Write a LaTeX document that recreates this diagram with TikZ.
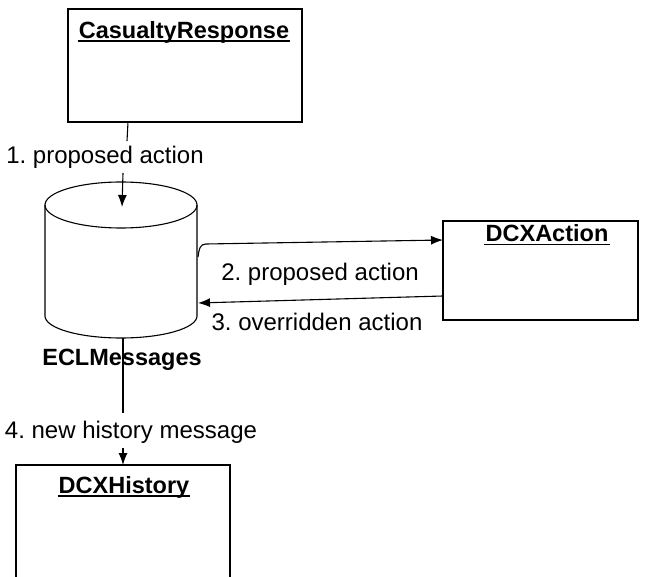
\documentclass[tikz,border=0pt]{standalone}
\usepackage{fontspec}
\setmainfont{Liberation Sans}
\usetikzlibrary{arrows.meta}
\tikzset{
  objbox/.style={draw, line width=1.2pt, inner sep=0pt},
  objtitle/.style={font=\fontsize{23.5}{28}\selectfont\bfseries, inner sep=1pt},
  msglabel/.style={font=\fontsize{24}{28}\selectfont, inner sep=2pt},
  conn/.style={line width=1.1pt},
  msgarrow/.style={conn, -{Latex[length=12pt,width=9pt]}},
  uline/.style={line width=1.6pt},
}
\begin{document}
\frenchspacing
\begin{tikzpicture}[x=1pt, y=-1pt]
  \useasboundingbox (0,0) rectangle (648,577);
  \clip (0,0) rectangle (648,577);

  % objects
  \node[objbox, minimum width=234pt, minimum height=113pt] (cr) at (185,65.5) {};
  \node[objtitle] (crt) at (184,32) {CasualtyResponse};
  \draw[uline] ([yshift=-3pt]crt.base west) -- ([yshift=-3pt]crt.base east);

  \node[objbox, minimum width=195pt, minimum height=99pt] (act) at (540.5,270.5) {};
  \node[objtitle] (actt) at (547,233) {DCXAction};
  \draw[uline] ([yshift=-3pt]actt.base west) -- ([yshift=-3pt]actt.base east);

  \node[objbox, minimum width=214pt, minimum height=150pt] (hist) at (123,540) {};
  \node[objtitle] (histt) at (124,487) {DCXHistory};
  \draw[uline] ([yshift=-3pt]histt.base west) -- ([yshift=-3pt]histt.base east);

  % ECLMessages data store
  \draw[conn] (121,205) ellipse [x radius=76pt, y radius=23pt];
  \draw[conn] (45,205) -- (45,316) arc[start angle=180, end angle=360, x radius=76pt, y radius=22pt] -- (197,205);
  \node[objtitle] (ecl) at (122,360) {ECLMessages};

  % connector end points on the store and boxes
  \coordinate (cylTop) at (122,207);
  \coordinate (cylBot) at (123,338);
  \coordinate (cylOut) at (198,257);
  \coordinate (cylIn)  at (198,303);
  \coordinate (crOut)  at (128,122);
  \coordinate (actIn)  at (443,240);
  \coordinate (actOut) at (443,296);
  \coordinate (histIn) at (123,465);

  % message labels
  \node[msglabel] (m1) at (105,157) {1. proposed action};
  \node[msglabel] (m2) at (320,274) {2. proposed action};
  \node[msglabel] (m3) at (317,322) {3. overridden action};
  \node[msglabel] (m4) at (131,432) {4. new history message};

  % messages
  \draw[conn] (crOut) -- (127,141);
  \draw[msgarrow] (123,173) -- (cylTop);
  \draw[msgarrow] (cylOut) .. controls (199,249) and (200,244) .. (206,244) -- (actIn);
  \draw[msgarrow] (actOut) -- (cylIn);
  \draw[conn] (cylBot) -- (123,413);
  \draw[msgarrow] (123,448) -- (histIn);
\end{tikzpicture}
\end{document}
